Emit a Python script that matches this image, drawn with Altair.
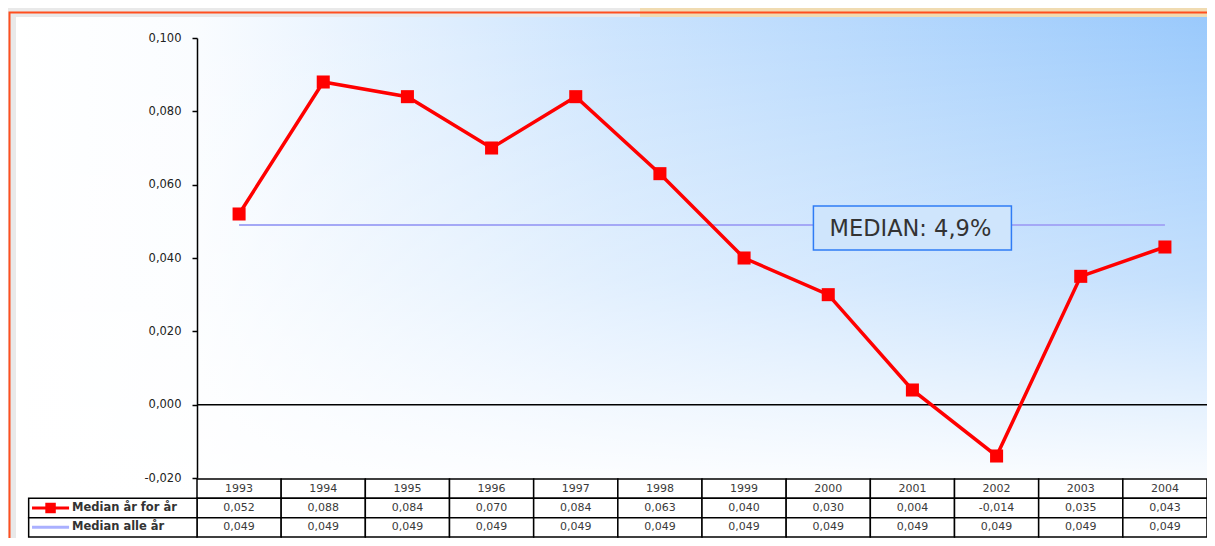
import altair as alt
import pandas as pd

# ---------------- data ----------------
years = [1993, 1994, 1995, 1996, 1997, 1998, 1999, 2000, 2001, 2002, 2003, 2004]
median_per_year = [0.052, 0.088, 0.084, 0.070, 0.084, 0.063, 0.040, 0.030, 0.004, -0.014, 0.035, 0.043]
median_all_years = [0.049] * 12
series_names = ["Median år for år", "Median alle år"]
y_ticks = [-0.02, 0.0, 0.02, 0.04, 0.06, 0.08, 0.10]
annotation_text = "MEDIAN: 4,9%"
annotation_year = 2001
annotation_value = 0.049

# ---------------- layout / style ----------------
W, H = 1010, 440
RED = "#ff0000"
LAV = "#a4a8f6"
FONT = "DejaVu Sans"

x_scale = alt.Scale(domain=[years[0] - 0.5, years[-1] + 0.5], nice=False, zero=False)
y_scale = alt.Scale(domain=[y_ticks[0], y_ticks[-1]], nice=False, zero=False)
t_scale = alt.Scale(domain=[0, 3], range=[441, 499], nice=False, zero=False)

y_axis = alt.Axis(values=y_ticks, title=None, grid=False, zindex=2,
                  labelExpr="replace(replace(format(datum.value, '.3f'), '.', ','), '\u2212', '-')",
                  domainColor="black", domainWidth=1.5,
                  tickColor="black", tickWidth=1.5, tickSize=5,
                  labelPadding=11, labelFont=FONT, labelFontSize=11.5,
                  labelColor="#222222")

df = pd.DataFrame({"year": years, "v": median_per_year, "m": median_all_years})
one = pd.DataFrame({"k": [0]})

# ---------------- background decoration ----------------
bg_gray = alt.Chart(one).mark_rect(fill="#e9e9e9").encode(
    x=alt.value(-189), x2=alt.value(1030), y=alt.value(-30), y2=alt.value(520))

top_deco = alt.Chart(one).mark_rect(fill="#ffc24a", opacity=0.35).encode(
    x=alt.value(443), x2=alt.value(1030), y=alt.value(-30), y2=alt.value(-21))

blue = "153,201,252"
grad_h = alt.Gradient(
    gradient="linear", x1=0, y1=0, x2=1, y2=0,
    stops=[alt.GradientStop(offset=0, color=f"rgba({blue},0)"),
           alt.GradientStop(offset=0.15, color=f"rgba({blue},0.05)"),
           alt.GradientStop(offset=0.5, color=f"rgba({blue},0.5)"),
           alt.GradientStop(offset=1, color=f"rgba({blue},1)")])
grad_v = alt.Gradient(
    gradient="linear", x1=0, y1=0, x2=0, y2=1,
    stops=[alt.GradientStop(offset=0, color="rgba(255,255,255,0)"),
           alt.GradientStop(offset=0.5, color="rgba(255,255,255,0.42)"),
           alt.GradientStop(offset=0.88, color="rgba(255,255,255,0.95)"),
           alt.GradientStop(offset=1, color="rgba(255,255,255,1)")])

bg_white = alt.Chart(one).mark_rect(fill="white").encode(
    x=alt.value(-181), x2=alt.value(1018), y=alt.value(-21), y2=alt.value(508))
bg_h = alt.Chart(one).mark_rect(fill=grad_h).encode(
    x=alt.value(-181), x2=alt.value(1018), y=alt.value(-21), y2=alt.value(508))
bg_v = alt.Chart(one).mark_rect(fill=grad_v).encode(
    x=alt.value(-181), x2=alt.value(1018), y=alt.value(-21), y2=alt.value(508))

frame = alt.Chart(one).mark_rect(fillOpacity=0, stroke="#ff4f1f", strokeWidth=2).encode(
    x=alt.value(-187.5), x2=alt.value(1040), y=alt.value(-25.5), y2=alt.value(530))

# ---------------- main plot ----------------
x_enc = alt.X("year:Q", scale=x_scale, axis=None)

zero_rule = alt.Chart(pd.DataFrame({"z": [0.0]})).mark_rule(color="black", strokeWidth=1.5).encode(
    y=alt.Y("z:Q", scale=y_scale, axis=y_axis))

median_line = alt.Chart(df).mark_line(color=LAV, strokeWidth=2).encode(
    x=x_enc, y=alt.Y("m:Q", scale=y_scale, axis=y_axis))

red_line = alt.Chart(df).mark_line(
    color=RED, strokeWidth=3.5,
    point=alt.OverlayMarkDef(shape="square", size=170, filled=True, color=RED, opacity=1),
).encode(x=x_enc, y=alt.Y("v:Q", scale=y_scale, axis=y_axis))

ann_df = pd.DataFrame({"year": [annotation_year], "v": [annotation_value], "label": [annotation_text]})
ann_box = alt.Chart(ann_df).mark_rect(
    fill="#cfe5fc", stroke="#2f7cf5", strokeWidth=1.5,
    xOffset=-99, x2Offset=99, yOffset=-19, y2Offset=25,
).encode(x=alt.X("year:Q", scale=x_scale, axis=None), x2="year:Q",
         y=alt.Y("v:Q", scale=y_scale, axis=y_axis), y2="v:Q")
ann_text = alt.Chart(ann_df).mark_text(
    font=FONT, fontSize=22.5, color="#333333", dx=-2, dy=4, baseline="middle", align="center"
).encode(x=alt.X("year:Q", scale=x_scale, axis=None),
         y=alt.Y("v:Q", scale=y_scale, axis=y_axis), text="label:N")

main = alt.layer(bg_gray, top_deco, bg_white, bg_h, bg_v, frame,
                 zero_rule, median_line, red_line, ann_box, ann_text)

# ---------------- data table ----------------
fmt = lambda v: f"{v:.3f}".replace(".", ",")
rows = []
for i, yr in enumerate(years):
    rows.append({"year": yr, "row": 0, "label": str(yr)})
    rows.append({"year": yr, "row": 1, "label": fmt(median_per_year[i])})
    rows.append({"year": yr, "row": 2, "label": fmt(median_all_years[i])})
tdf = pd.DataFrame(rows)

cells = alt.Chart(tdf).transform_calculate(
    x0="datum.year - 0.5", x1="datum.year + 0.5", r1="datum.row + 1"
).mark_rect(fill="white", stroke="black", strokeWidth=1.5).encode(
    x=alt.X("x0:Q", scale=x_scale, axis=None), x2="x1:Q",
    y=alt.Y("row:Q", scale=t_scale, axis=None), y2="r1:Q")

cell_text = alt.Chart(tdf).transform_calculate(rm="datum.row + 0.5").mark_text(
    font=FONT, fontSize=11, color="#3a3a3a", baseline="middle", align="center"
).encode(x=alt.X("year:Q", scale=x_scale, axis=None),
         y=alt.Y("rm:Q", scale=t_scale, axis=None), text="label:N")

ldf = pd.DataFrame({"row": [1, 2], "name": series_names, "col": [RED, "#aab0ff"],
                    "first": [years[0], years[0]]})
leg_base = alt.Chart(ldf).transform_calculate(
    left="datum.first - 2.5", right="datum.first - 0.5", r1="datum.row + 1",
    rm="datum.row + 0.5", l0="datum.first - 2.46", l1="datum.first - 2.02",
    lm="datum.first - 2.24", lt="datum.first - 1.985")

leg_cells = leg_base.mark_rect(fill="white", stroke="black", strokeWidth=1.5).encode(
    x=alt.X("left:Q", scale=x_scale, axis=None), x2="right:Q",
    y=alt.Y("row:Q", scale=t_scale, axis=None), y2="r1:Q")
leg_lines = leg_base.mark_rule(strokeWidth=3).encode(
    x=alt.X("l0:Q", scale=x_scale, axis=None), x2="l1:Q",
    y=alt.Y("rm:Q", scale=t_scale, axis=None),
    color=alt.Color("col:N", scale=None))
leg_square = leg_base.transform_filter("datum.row == 1").mark_point(
    shape="square", size=110, filled=True, opacity=1, color=RED).encode(
    x=alt.X("lm:Q", scale=x_scale, axis=None),
    y=alt.Y("rm:Q", scale=t_scale, axis=None))
leg_text = leg_base.mark_text(
    font=FONT, fontSize=11.5, fontWeight="bold", color="#333333", align="left", baseline="middle"
).encode(x=alt.X("lt:Q", scale=x_scale, axis=None),
         y=alt.Y("rm:Q", scale=t_scale, axis=None), text="name:N")

table = alt.layer(cells, cell_text, leg_cells, leg_lines, leg_square, leg_text)

chart = alt.layer(main, table).resolve_scale(y="independent").properties(
    width=W, height=H,
    padding={"left": 189, "top": 30, "right": 0, "bottom": 60},
    autosize=alt.AutoSizeParams(type="none"),
    background="white",
).configure_view(strokeOpacity=0)

chart.save("out.html", embed_options={"renderer": "svg", "actions": False})
